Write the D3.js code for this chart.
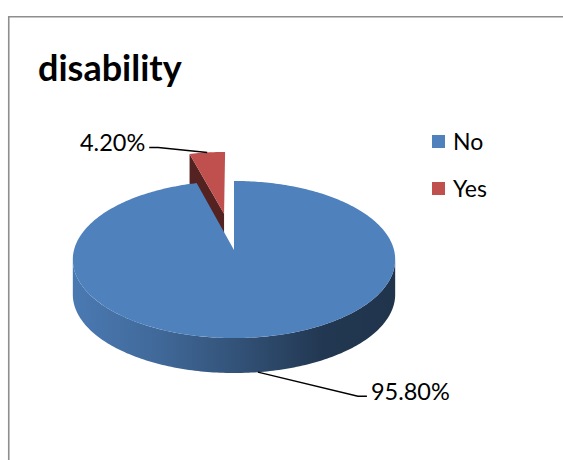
<!DOCTYPE html>
<html>
<head>
<meta charset="utf-8">
<script src="https://cdn.jsdelivr.net/npm/d3@7"></script>
<style>
  html, body { margin: 0; padding: 0; background: #ffffff; }
  svg { display: block; }
  text { font-family: Lato, "Open Sans", sans-serif; fill: #000; }
</style>
</head>
<body>
<svg id="chart" width="563" height="460"></svg>
<script>
// ---- data ----
const title = "disability";
const categories = ["No", "Yes"];
const values = [95.8, 4.2];
const valueLabels = ["95.80%", "4.20%"];

// ---- styles / layout ----
const colors = ["#4f81bd", "#c0504d"];
const explode = [0, 0.5];            // fraction of radius
const labelOffsets = [[100, 24], [-49, -5]]; // leader elbow offsets from anchor
const labelSide = [1, -1];

const W = 563, H = 460;
const cx = 234, cy = 250;   // pie centre (top face)
const R = 160;              // horizontal radius
const T = 77.4;             // vertical radius (tilt)
const P = 0.121;            // perspective strength
const D = 35;               // thickness (screen px)

const svg = d3.select("#chart");

// frame
svg.append("path")
  .attr("d", `M8.75,${H + 5} V16.75 H${W + 5}`)
  .attr("fill", "none").attr("stroke", "#8e8e8e").attr("stroke-width", 1.6);

// title
svg.append("text").attr("x", 38).attr("y", 81)
  .attr("font-size", 36).attr("font-weight", 700).text(title);

// projection of a point on the (unit) pie disc; h=0 top face, h=1 bottom face
function proj(X, Z, h) {
  const s = 1 / (1 + P * Z);
  return [cx + X * R * s, cy - Z * T * s + h * D];
}

const pie = d3.pie().sort(null).value(d => d);
const arcs = pie(values).map((a, i) => {
  const mid = (a.startAngle + a.endAngle) / 2;
  const ox = explode[i] * Math.sin(mid), oz = explode[i] * Math.cos(mid);
  return { ...a, i, mid, ox, oz, cz: oz + 0.5 * Math.cos(mid) };
});

const line = d3.line();
function arcPts(a, a0, a1, h, r = 1) {
  const n = Math.max(2, Math.ceil(Math.abs(a1 - a0) / (Math.PI / 180)) + 1);
  const pts = [];
  for (let k = 0; k < n; k++) {
    const t = a0 + (a1 - a0) * k / (n - 1);
    pts.push(proj(a.ox + r * Math.sin(t), a.oz + r * Math.cos(t), h));
  }
  return pts;
}
function polyArea(pts) {
  let s = 0;
  for (let k = 0; k < pts.length; k++) {
    const p = pts[k], q = pts[(k + 1) % pts.length];
    s += p[0] * q[1] - q[0] * p[1];
  }
  return Math.abs(s) / 2;
}

const defs = svg.append("defs");
const thetaR = Math.acos(-P), thetaL = 2 * Math.PI - thetaR;
const camZ = -1 / P;

const g = svg.append("g");
arcs.slice().sort((a, b) => b.cz - a.cz).forEach(a => {
  const base = d3.color(colors[a.i]);
  const scaleC = f => d3.rgb(base.r * f, base.g * f, base.b * f).formatHex();
  const sg = g.append("g");

  // cut faces
  [[a.startAngle, -1], [a.endAngle, 1]].forEach(([ang, dir]) => {
    const nx = dir * Math.cos(ang), nz = -dir * Math.sin(ang);
    const px = a.ox + 0.5 * Math.sin(ang), pz = a.oz + 0.5 * Math.cos(ang);
    const vis = nx * (0 - px) + nz * (camZ - pz);
    if (vis <= 0) return;
    const pts = [
      proj(a.ox, a.oz, 0),
      proj(a.ox + Math.sin(ang), a.oz + Math.cos(ang), 0),
      proj(a.ox + Math.sin(ang), a.oz + Math.cos(ang), 1),
      proj(a.ox, a.oz, 1)
    ];
    if (polyArea(pts) < 40) return;
    sg.append("path").attr("d", line(pts) + "Z").attr("fill", scaleC(0.43));
  });

  // outer wall (front part)
  const w0 = Math.max(a.startAngle, thetaR), w1 = Math.min(a.endAngle, thetaL);
  if (w1 > w0) {
    const top = arcPts(a, w0, w1, 0);
    const bot = arcPts(a, w1, w0, 1);
    const gid = "wall" + a.i;
    const grad = defs.append("linearGradient").attr("id", gid)
      .attr("x1", 0).attr("x2", 1).attr("y1", 0).attr("y2", 0);
    [[0, 0.94], [0.25, 0.82], [0.5, 0.64], [0.78, 0.43], [1, 0.4]].forEach(([o, f]) => {
      grad.append("stop").attr("offset", o).attr("stop-color", scaleC(f));
    });
    sg.append("path").attr("d", line(top.concat(bot)) + "Z")
      .attr("fill", `url(#${gid})`);
  }

  // top face
  const topPts = [proj(a.ox, a.oz, 0)].concat(arcPts(a, a.startAngle, a.endAngle, 0));
  sg.append("path").attr("d", line(topPts) + "Z").attr("fill", colors[a.i]);
});

// data labels with leader lines
arcs.forEach(a => {
  const front = Math.cos(a.mid) < 0;
  const anchor = proj(a.ox + Math.sin(a.mid), a.oz + Math.cos(a.mid), front ? 1 : 0);
  const [dx, dy] = labelOffsets[a.i];
  const elbow = [anchor[0] + dx, anchor[1] + dy];
  const end = [elbow[0] + labelSide[a.i] * 9, elbow[1]];
  svg.append("path").attr("d", line([anchor, elbow, end]))
    .attr("fill", "none").attr("stroke", "#000").attr("stroke-width", 1.4);
  svg.append("text")
    .attr("x", end[0] + labelSide[a.i] * 4).attr("y", end[1] + 4)
    .attr("text-anchor", labelSide[a.i] > 0 ? "start" : "end")
    .attr("font-size", 23.5).text(valueLabels[a.i]);
});

// legend
const legend = svg.append("g");
categories.forEach((c, i) => {
  const y = 135 + i * 47;
  legend.append("rect").attr("x", 432).attr("y", y).attr("width", 13).attr("height", 13)
    .attr("fill", colors[i]);
  legend.append("text").attr("x", 453).attr("y", y + 14.5).attr("font-size", 23).text(c);
});
</script>
</body>
</html>
